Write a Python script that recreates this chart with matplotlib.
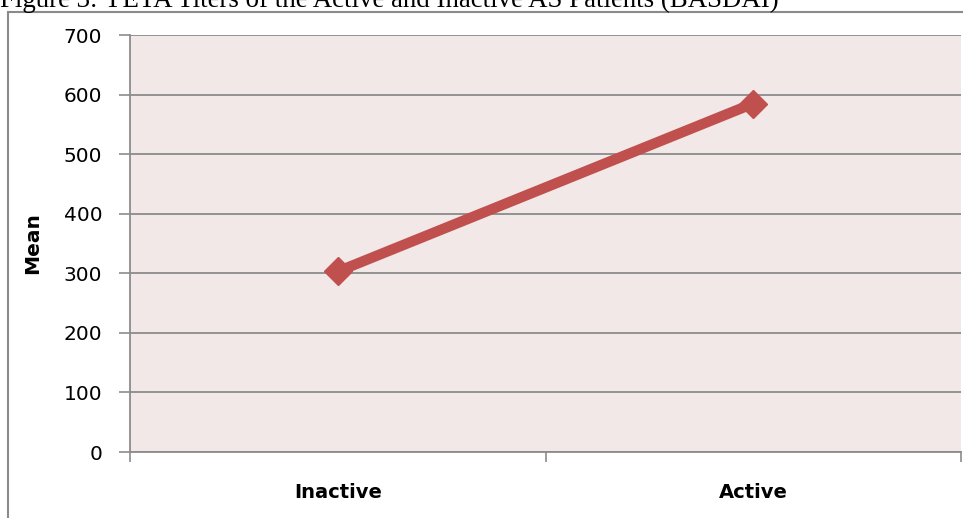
import matplotlib
matplotlib.use("Agg")
import matplotlib.pyplot as plt
from matplotlib.patches import Rectangle

categories = ["Inactive", "Active"]
means = [303, 585]
yticks = [0, 100, 200, 300, 400, 500, 600, 700]
title = "Figure 3: YETA Titers of the Active and Inactive AS Patients (BASDAI)"

W, H = 963, 518
fig = plt.figure(figsize=(W / 100, H / 100), dpi=100)
fig.patch.set_facecolor("white")

# chart frame (cropped at right/bottom)
fig.patches.append(Rectangle((8 / W, -0.2), 1.2, 1.2 - 12 / H,
                             transform=fig.transFigure, facecolor="none",
                             edgecolor="#8a8a8a", linewidth=1.5, zorder=0))

L, R, T, B = 130, 961, 35, 452
ax = fig.add_axes([L / W, 1 - B / H, (R - L) / W, (B - T) / H])
ax.set_facecolor("#f2e8e7")

x = list(range(len(categories)))
ax.plot(x, means, color="#c0504d", linewidth=7.5, marker="D", markersize=14,
        markerfacecolor="#c0504d", markeredgecolor="#c0504d", solid_capstyle="butt",
        zorder=3)

ax.set_xlim(-0.5, len(categories) - 0.5)
ax.set_ylim(0, 700)
ax.set_yticks(yticks)
ax.set_yticklabels([str(v) for v in yticks])
ax.yaxis.grid(True, color="#8c8c8c", linewidth=1.3)
ax.set_axisbelow(True)

ax.set_xticks(x)
ax.set_xticklabels(categories, fontweight="bold")
ax.set_xticks([-0.5 + i for i in range(len(categories) + 1)], minor=True)
ax.tick_params(axis="x", which="major", length=0, pad=22, labelsize=14)
ax.tick_params(axis="x", which="minor", length=7, width=1.2, color="#8c8c8c", direction="out")
ax.tick_params(axis="y", length=8, width=1.2, color="#8c8c8c", pad=12, labelsize=14.5)

for s in ["top", "right"]:
    ax.spines[s].set_visible(False)
ax.spines["left"].set_color("#8c8c8c")
ax.spines["left"].set_linewidth(1.3)
ax.spines["bottom"].set_color("#8c8c8c")
ax.spines["bottom"].set_linewidth(1.3)

ax.set_ylabel("Mean", fontsize=14.5, fontweight="bold")
ax.yaxis.set_label_coords((42 - L) / (R - L), 0.5)

fig.text(0.0, 1 - 7 / H, title, family="Liberation Serif", fontsize=19.4,
         ha="left", va="baseline")

fig.savefig("out.png", dpi=100)
